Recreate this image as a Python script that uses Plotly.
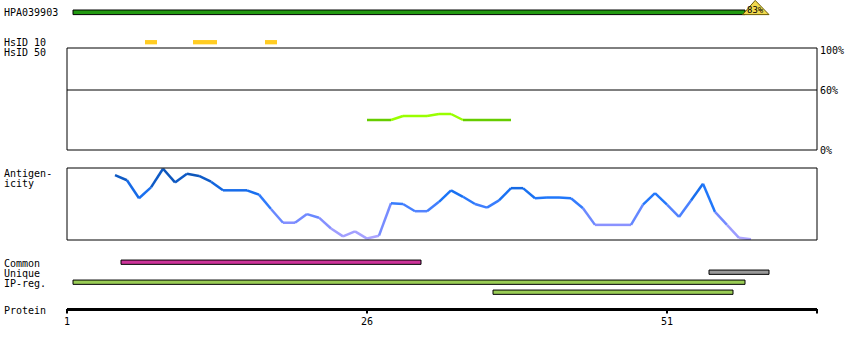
import plotly.graph_objects as go

# ---------------- data ----------------
seq_len = 63.5                      # protein axis end (residues)
axis_ticks = [1, 26, 51]
axis_tick_labels = ["1", "26", "51"]

antigen_name = "HPA039903"
antigen_start, antigen_end = 2, 57
identity_label = "83%"

hsid10_starts = [8, 12, 18]
hsid10_ends = [8, 13, 18]

hsid50_res = list(range(26, 39))
hsid50_pct = [30, 30, 30, 34, 34, 34, 36, 36, 30, 30, 30, 30, 30]

antig_res = list(range(5, 59))
antig_val = [0.90, 0.83, 0.58, 0.73, 0.99, 0.80, 0.92, 0.89, 0.81, 0.69,
             0.69, 0.69, 0.63, 0.43, 0.24, 0.24, 0.36, 0.31, 0.16, 0.05,
             0.12, 0.02, 0.06, 0.51, 0.50, 0.40, 0.40, 0.53, 0.69, 0.60,
             0.50, 0.45, 0.55, 0.72, 0.72, 0.58, 0.59, 0.59, 0.58, 0.44,
             0.21, 0.21, 0.21, 0.21, 0.49, 0.65, 0.49, 0.32, 0.55, 0.78,
             0.39, 0.21, 0.03, 0.01]

track_labels = ["Common", "Unique", "IP-reg."]
common_start, common_end = 6, 30
unique_start, unique_end = 55, 59
ipreg_starts = [2, 37]
ipreg_ends = [57, 56]

# ---------------- layout helpers ----------------
W, H = 850, 350
PX_RES1 = 67.0
PX_PER_RES = 12.0
x_lo = 1 - PX_RES1 / PX_PER_RES
x_hi = 1 + (W - PX_RES1) / PX_PER_RES

FONT = dict(family="DejaVu Sans Mono", size=10, color="black")

fig = go.Figure()


def hbar(starts, ends, yc, color, thick=4.3, outline=True):
    fig.add_trace(go.Bar(
        orientation="h",
        base=[s - 0.5 for s in starts],
        x=[(e + 0.5) - (s - 0.5) for s, e in zip(starts, ends)],
        y=[yc] * len(starts), width=thick,
        marker=dict(color=color,
                    line=dict(color="black", width=1 if outline else 0)),
        showlegend=False, hoverinfo="skip", xaxis="x", yaxis="y"))


# antigen bar
hbar([antigen_start], [antigen_end], 12.3, "#229911", thick=4.6)
# identity triangle
tx = [antigen_end + 0.3, antigen_end + 1.35, antigen_end + 2.5, antigen_end + 0.3]
ty = [14.6, 0.4, 14.6, 14.6]
fig.add_trace(go.Scatter(x=tx, y=ty, mode="lines", fill="toself",
                         fillcolor="#f2d94e", line=dict(color="#6b5a00", width=1),
                         showlegend=False, hoverinfo="skip", xaxis="x", yaxis="y"))
fig.add_annotation(x=antigen_end + 1.35, y=9.5, xref="x", yref="y", text=identity_label,
                   showarrow=False, font=dict(family="DejaVu Sans Mono", size=9, color="black"),
                   xanchor="center", yanchor="middle")

# HsID 10 marks
hbar(hsid10_starts, hsid10_ends, 42.2, "#ffcc22", thick=4.3, outline=False)

# HsID 50 line (segments)
for i in range(len(hsid50_res) - 1):
    hi = max(hsid50_pct[i], hsid50_pct[i + 1]) > 31
    fig.add_trace(go.Scatter(
        x=hsid50_res[i:i + 2], y=hsid50_pct[i:i + 2], mode="lines",
        line=dict(color="#99ff00" if hi else "#66cc00", width=2.5),
        showlegend=False, hoverinfo="skip", xaxis="x", yaxis="y2"))

# antigenicity segments
stops = [(0.0, (178, 168, 255)), (0.25, (130, 142, 255)), (0.45, (70, 128, 255)),
         (0.6, (28, 118, 250)), (0.8, (16, 96, 214)), (1.0, (10, 76, 160))]


def cmap(v):
    for (a, ca), (b, cb) in zip(stops[:-1], stops[1:]):
        if v <= b:
            t = (v - a) / (b - a)
            c = [round(ca[k] + t * (cb[k] - ca[k])) for k in range(3)]
            return "rgb(%d,%d,%d)" % tuple(c)
    return "rgb(%d,%d,%d)" % stops[-1][1]


for i in range(len(antig_res) - 1):
    v = (antig_val[i] + antig_val[i + 1]) / 2
    fig.add_trace(go.Scatter(
        x=antig_res[i:i + 2], y=antig_val[i:i + 2], mode="lines",
        line=dict(color=cmap(v), width=2.5),
        showlegend=False, hoverinfo="skip", xaxis="x", yaxis="y3"))

# bottom tracks
hbar([common_start], [common_end], 262.2, "#cc3399")
hbar([unique_start], [unique_end], 272.2, "#999999")
hbar([ipreg_starts[0]], [ipreg_ends[0]], 282.2, "#99cc55")
hbar([ipreg_starts[1]], [ipreg_ends[1]], 292.2, "#99cc55")

# protein axis
fig.add_trace(go.Scatter(x=[1, seq_len], y=[309.5, 309.5], mode="lines",
                         line=dict(color="black", width=3),
                         showlegend=False, hoverinfo="skip", xaxis="x", yaxis="y"))
for t in axis_ticks + [seq_len]:
    fig.add_shape(type="line", xref="x", yref="y", x0=t, x1=t, y0=309, y1=313.5,
                  line=dict(color="black", width=2))
for t, lab in zip(axis_ticks, axis_tick_labels):
    fig.add_annotation(x=t, y=321.5, xref="x", yref="y", text=lab, showarrow=False,
                       font=FONT, xanchor="center", yanchor="middle")

# panel boxes
for yr in ["y2 domain", "y3 domain"]:
    fig.add_shape(type="rect", xref="x", yref=yr, x0=1, x1=seq_len, y0=0, y1=1,
                  line=dict(color="black", width=1), fillcolor="rgba(0,0,0,0)")
fig.add_shape(type="line", xref="x", yref="y2", x0=1, x1=seq_len, y0=60, y1=60,
              line=dict(color="black", width=1))

# percent labels
for v, lab, ys in [(100, "100%", -1), (60, "60%", 0), (0, "0%", 0)]:
    fig.add_annotation(x=seq_len, y=v, xref="x", yref="y2", text=lab, showarrow=False,
                       font=FONT, xanchor="left", yanchor="middle", xshift=1, yshift=ys)

# left labels
left_labels = [(antigen_name, 12.5), ("HsID 10", 42.5), ("HsID 50", 52.5),
               ("Antigen-", 173), ("icity", 183.5),
               (track_labels[0], 263), (track_labels[1], 273), (track_labels[2], 283),
               ("Protein", 310)]
for txt, yy in left_labels:
    fig.add_annotation(x=2 / W, y=yy, xref="paper", yref="y", text=txt, showarrow=False,
                       font=FONT, xanchor="left", yanchor="middle")

fig.update_layout(
    width=W, height=H, margin=dict(l=0, r=0, t=0, b=0, pad=0),
    paper_bgcolor="white", plot_bgcolor="rgba(0,0,0,0)",
    barmode="overlay", showlegend=False,
    xaxis=dict(range=[x_lo, x_hi], visible=False, fixedrange=True),
    yaxis=dict(range=[H, 0], visible=False, domain=[0, 1]),
    yaxis2=dict(range=[0, 102], visible=False, anchor="x",
                domain=[1 - 150 / H, 1 - 48 / H]),
    yaxis3=dict(range=[0, 1], visible=False, anchor="x",
                domain=[1 - 240 / H, 1 - 168 / H]),
)

fig.write_html("out.html")
